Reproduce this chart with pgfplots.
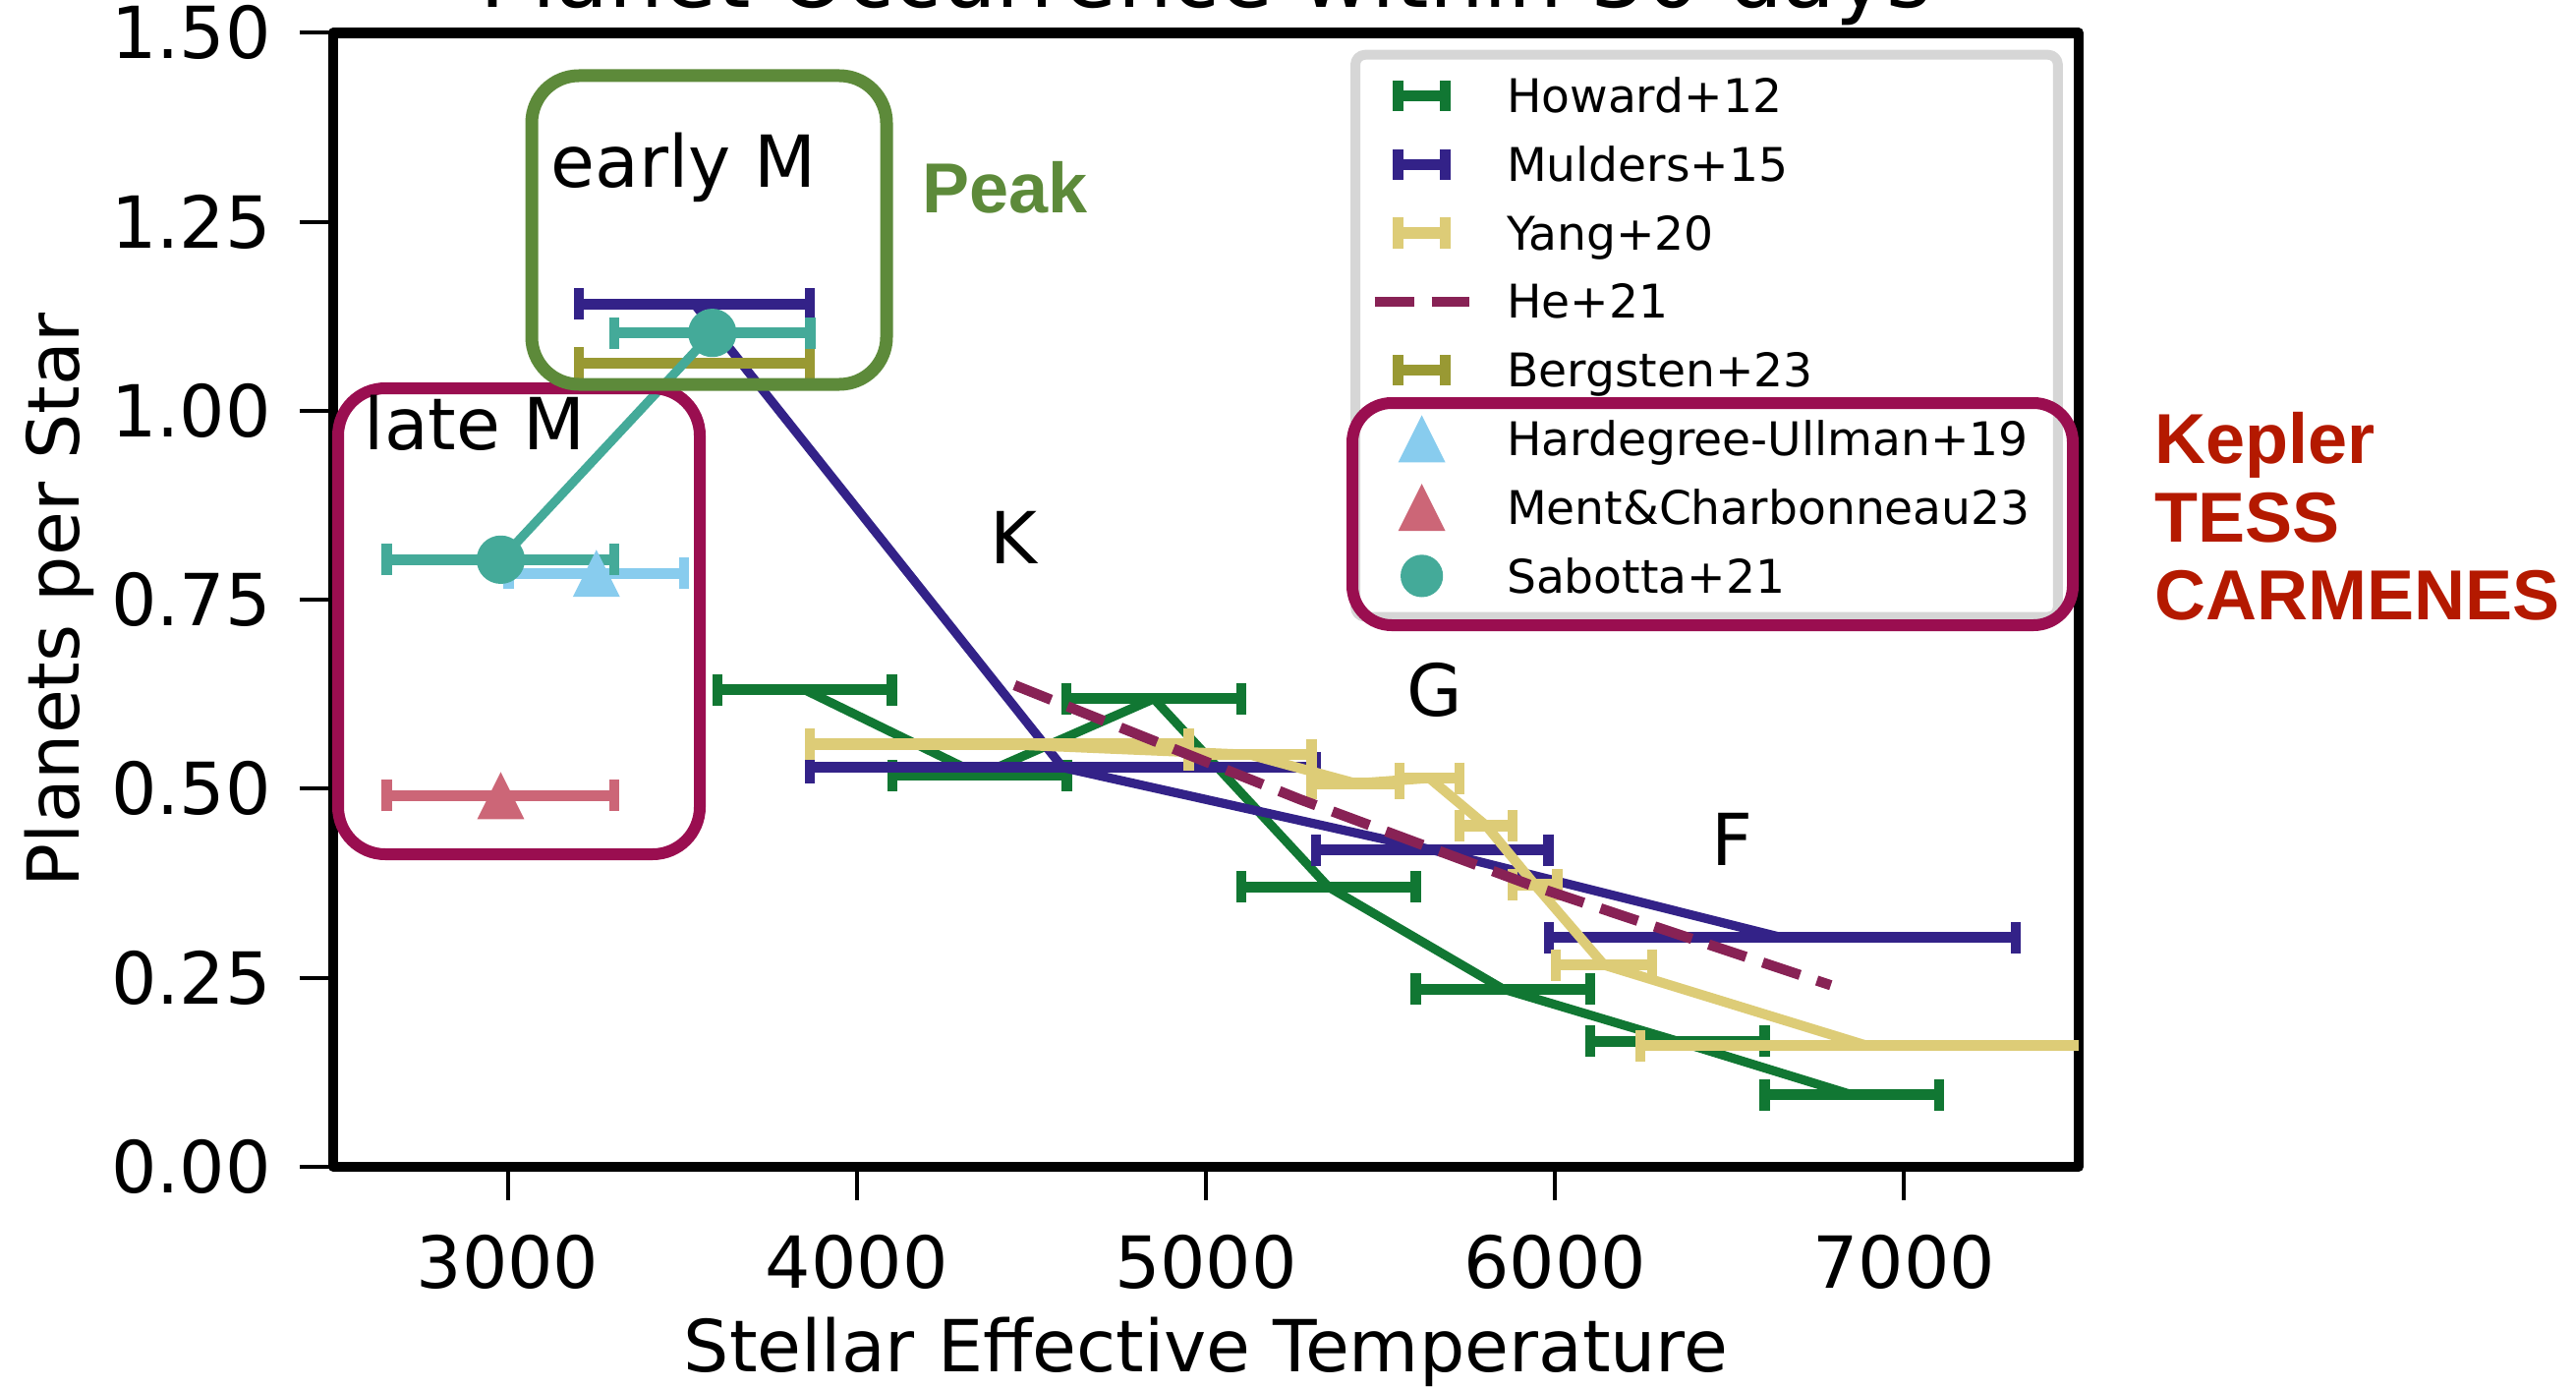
\documentclass[border=0pt]{standalone}
\usepackage{pgfplots}
\pgfplotsset{compat=1.18}
\usepackage{fontspec}
\setmainfont{DejaVu Sans}
\newfontfamily\arialfont{Liberation Sans}

\definecolor{howard}{HTML}{117733}
\definecolor{mulders}{HTML}{332288}
\definecolor{yang}{HTML}{DDCC77}
\definecolor{he}{HTML}{882255}
\definecolor{bergsten}{HTML}{999933}
\definecolor{hu}{HTML}{88CCEE}
\definecolor{ment}{HTML}{CC6677}
\definecolor{sabotta}{HTML}{44AA99}
\definecolor{boxgreen}{RGB}{93,138,58}
\definecolor{boxwine}{RGB}{154,14,80}
\definecolor{redtext}{RGB}{180,25,0}
\definecolor{legframe}{RGB}{214,214,214}

\pgfdeclareplotmark{mtri}{%
  \pgfpathmoveto{\pgfqpoint{0pt}{\pgfplotmarksize}}%
  \pgfpathlineto{\pgfqpoint{-\pgfplotmarksize}{-\pgfplotmarksize}}%
  \pgfpathlineto{\pgfqpoint{\pgfplotmarksize}{-\pgfplotmarksize}}%
  \pgfpathclose
  \pgfusepathqfill}

\newcommand{\ebimg}[1]{\addlegendimage{legend image code/.code={%
  \path[draw=none,fill=none] (-9.9pt,-6.9pt) rectangle (12pt,6.9pt);
  \draw[overlay,draw=#1,line width=2.8pt,sharp corners,solid] (-6pt,0pt)--(6pt,0pt) (-6pt,-3.9pt)--(-6pt,3.9pt) (6pt,-3.9pt)--(6pt,3.9pt);}}}

\pgfplotsset{
  ebar/.style={error bars/.cd, x dir=both, x explicit, error mark=|,
    error bar style={line width=2.8pt, draw=#1, solid},
    error mark options={draw=#1, line width=2.6pt, mark size=4pt, solid}},
}

\begin{document}
\begin{tikzpicture}
\path[use as bounding box] (0,0) rectangle (655.25pt,-353pt);
\clip (0,0) rectangle (655.25pt,-353pt);
\begin{axis}[
  at={(84.75pt,-296.7pt)}, anchor=south west,
  scale only axis, width=444pt, height=288.35pt,
  xmin=2500, xmax=7500, ymin=0, ymax=1.5,
  xtick={3000,4000,5000,6000,7000}, xticklabels={3000,4000,5000,6000,7000},
  ytick={0,0.25,0.5,0.75,1,1.25,1.5}, yticklabels={0.00,0.25,0.50,0.75,1.00,1.25,1.50},
  tick align=outside, xtick pos=bottom, ytick pos=left,
  major tick length=8.5pt,
  every tick/.style={black, line width=1pt},
  axis line style={line width=2.6pt},
  tick label style={font=\fontsize{18.25}{22}\selectfont},
  xticklabel style={anchor=base, inner sep=0pt, yshift=-22.3pt},
  yticklabel style={anchor=east, inner sep=0pt, xshift=-7.15pt},
  xlabel={Stellar Effective Temperature}, ylabel={Planets per Star},
  label style={font=\fontsize{18.25}{22}\selectfont},
  xlabel style={at={(axis description cs:0.5,-0.1805)}, anchor=base, inner sep=0pt},
  ylabel style={at={(axis description cs:-0.1458,0.5)}, anchor=base, inner sep=0pt},
  legend style={at={(0.5828,0.985)}, anchor=north west, draw=legframe, line width=2.5pt,
    rounded corners=2.5pt, fill=white, inner xsep=7pt, inner ysep=3.5pt,
    row sep=3.65pt, column sep=9.6pt, font=\fontsize{11.8}{14}\selectfont,
    nodes={inner sep=0pt, text height=11.2pt, text depth=2.6pt}},
  legend cell align=left,
  line join=round,
]
% Howard+12
\addplot[howard, line width=2.3pt, mark=none, forget plot, ebar=howard] coordinates {
 (3850,0.631) +- (250,0)
 (4352,0.518) +- (250,0)
 (4851,0.619) +- (250,0)
 (5351,0.370) +- (250,0)
 (5851,0.235) +- (250,0)
 (6351,0.166) +- (250,0)
 (6851,0.095) +- (250,0)
};
% Mulders+15
\addplot[mulders, line width=2.3pt, mark=none, forget plot, ebar=mulders] coordinates {
 (3535,1.141) +- (331,0)
 (4590,0.528) +- (725,0)
 (5648,0.419) +- (333,0)
 (6651,0.303) +- (669,0)
};
% Yang+20
\addplot[yang, line width=2.5pt, mark=none, forget plot, ebar=yang] coordinates {
 (4408,0.559) +- (543,0)
 (5127,0.545) +- (176,0)
 (5429,0.507) +- (126,0)
 (5640,0.514) +- (86,0)
 (5803,0.451) +- (76,0)
 (5942,0.373) +- (64,0)
 (6140,0.267) +- (138,0)
 (6894,0.160) +- (650,0)
};
% He+21
\addplot[he, line width=2.6pt, mark=none, forget plot, dash pattern=on 10pt off 4.5pt, line cap=butt] coordinates {
 (4452,0.637) (5269,0.486) (5927,0.373) (6790,0.240)
};
% Bergsten+23
\addplot[draw=none, mark=none, forget plot, ebar=bergsten] coordinates {
 (3535,1.063) +- (331,0)
};
% Hardegree-Ullman+19
\addplot[hu, only marks, mark=mtri, mark size=6pt, forget plot, ebar=hu] coordinates {
 (3254,0.785) +- (251,0)
};
% Ment & Charbonneau 23
\addplot[ment, only marks, mark=mtri, mark size=6pt, forget plot, ebar=ment] coordinates {
 (2980,0.491) +- (326,0)
};
% Sabotta+21
\addplot[sabotta, line width=2.3pt, mark=*, mark size=5pt, mark options={draw=none, fill=sabotta}, forget plot, ebar=sabotta] coordinates {
 (2980,0.803) +- (326,0)
 (3586,1.103) +- (281,0)
};

\ebimg{howard}\addlegendentry{Howard+12}
\ebimg{mulders}\addlegendentry{Mulders+15}
\ebimg{yang}\addlegendentry{Yang+20}
\addlegendimage{legend image code/.code={\path[draw=none,fill=none] (-9.9pt,-6.9pt) rectangle (12pt,6.9pt);
  \draw[overlay,draw=he,line width=2.6pt,sharp corners,dash pattern=on 10pt off 4.5pt,line cap=butt] (-12pt,0pt)--(12pt,0pt);}}
\addlegendentry{He+21}
\ebimg{bergsten}\addlegendentry{Bergsten+23}
\addlegendimage{legend image code/.code={\path[draw=none,fill=none] (-9.9pt,-6.9pt) rectangle (12pt,6.9pt);
  \fill[overlay,fill=hu,draw=none,sharp corners] (0pt,6pt)--(-6pt,-6pt)--(6pt,-6pt)--cycle;}}
\addlegendentry{Hardegree-Ullman+19}
\addlegendimage{legend image code/.code={\path[draw=none,fill=none] (-9.9pt,-6.9pt) rectangle (12pt,6.9pt);
  \fill[overlay,fill=ment,draw=none,sharp corners] (0pt,6pt)--(-6pt,-6pt)--(6pt,-6pt)--cycle;}}
\addlegendentry{Ment\&Charbonneau23}
\addlegendimage{legend image code/.code={\path[draw=none,fill=none] (-9.9pt,-6.9pt) rectangle (12pt,6.9pt);
  \fill[overlay,fill=sabotta,draw=none] (0pt,0pt) circle (5.4pt);}}
\addlegendentry{Sabotta+21}
\end{axis}

\begin{scope}[x=0.25pt, y=-0.25pt]
\node[anchor=base, inner sep=0pt, font=\fontsize{22}{26}\selectfont] at (1227,8) {Planet Occurrence within 30 days};
\draw[boxwine, line width=3pt, rounded corners=12pt] (344,395) rectangle (712,869);
\draw[boxgreen, line width=3.25pt, rounded corners=12pt] (541,77) rectangle (902,391);
\draw[boxwine, line width=3pt, rounded corners=10pt] (1376,410) rectangle (2109,636);
\begin{scope}[every node/.style={inner sep=0pt, font=\fontsize{18.25}{22}\selectfont}]
\node[anchor=base west] at (560,191) {early M};
\node[anchor=base west] at (370,457) {late M};
\node[anchor=base] at (1031,573) {K};
\node[anchor=base] at (1460,728) {G};
\node[anchor=base] at (1762,880) {F};
\end{scope}
\begin{scope}[every node/.style={inner sep=0pt, anchor=base west, font=\arialfont\bfseries\fontsize{18}{22}\selectfont}]
\node[text=boxgreen] at (938,217) {Peak};
\node[text=redtext] at (2192,471) {Kepler};
\node[text=redtext] at (2192,551) {TESS};
\node[text=redtext] at (2192,630) {CARMENES};
\end{scope}
\end{scope}
\end{tikzpicture}
\end{document}
